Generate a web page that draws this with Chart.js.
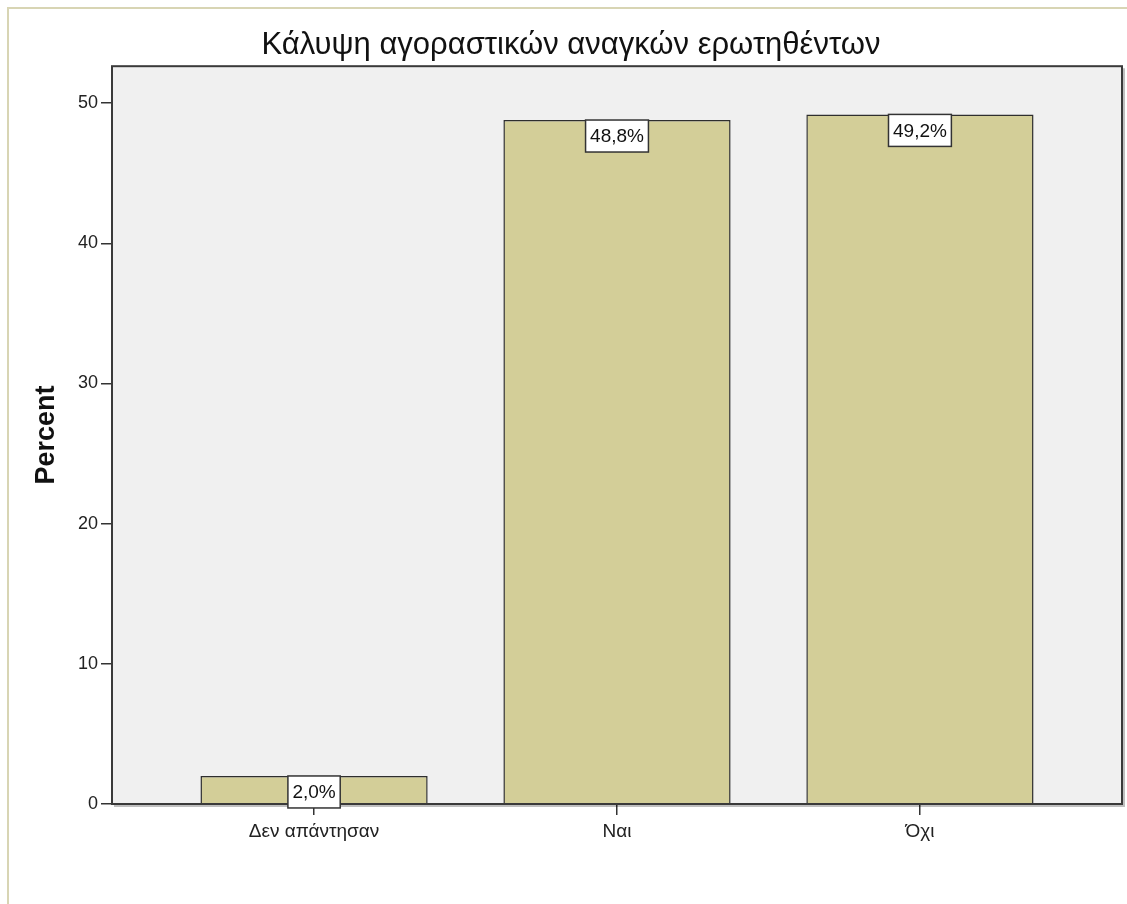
<!DOCTYPE html>
<html>
<head>
<meta charset="utf-8">
<script src="https://cdn.jsdelivr.net/npm/chart.js@4"></script>
<style>
  body { margin: 0; background: #fff; }
  #wrap { position: relative; width: 1127px; height: 904px; }
  #frame {
    position: absolute; left: 7px; top: 7px; right: 0; bottom: 0;
    border-top: 2px solid #d8d5b4; border-left: 2px solid #d8d5b4;
  }
  #chart { position: absolute; left: 0; top: 0; }
</style>
</head>
<body>
<div id="wrap">
  <div id="frame"></div>
  <canvas id="chart" width="1127" height="904"></canvas>
</div>
<script>
const categories = ["Δεν απάντησαν", "Ναι", "Όχι"];
const percents = [2.0, 48.8, 49.2];
const yTicks = [0, 10, 20, 30, 40, 50];

const FONT = "'Liberation Sans', Arial, sans-serif";
const fmt = (v) => v.toFixed(1).replace(".", ",") + "%";

// grey plot background, dark frame and the boxed value labels
const plotDecor = {
  id: "plotDecor",
  beforeDatasetsDraw(chart) {
    const { ctx, chartArea: a } = chart;
    ctx.save();
    ctx.fillStyle = "#f0f0f0";
    ctx.fillRect(a.left, a.top, a.right - a.left, a.bottom - a.top);
    ctx.restore();
  },
  afterDatasetsDraw(chart) {
    const { ctx, chartArea: a } = chart;
    ctx.save();
    // soft shadow on the right and bottom edges
    ctx.strokeStyle = "rgba(0,0,0,0.25)";
    ctx.lineWidth = 2;
    ctx.beginPath();
    ctx.moveTo(a.right + 2, a.top + 2);
    ctx.lineTo(a.right + 2, a.bottom + 2);
    ctx.lineTo(a.left + 2, a.bottom + 2);
    ctx.stroke();
    ctx.strokeStyle = "#3a3a3a";
    ctx.lineWidth = 2;
    ctx.strokeRect(a.left, a.top, a.right - a.left, a.bottom - a.top);

    const meta = chart.getDatasetMeta(0);
    ctx.font = "19px " + FONT;
    ctx.textAlign = "center";
    ctx.textBaseline = "middle";
    meta.data.forEach((bar, i) => {
      const txt = fmt(percents[i]);
      const w = ctx.measureText(txt).width + 9;
      const h = 32;
      const x = bar.x - w / 2;
      const y = bar.y;
      ctx.fillStyle = "#ffffff";
      ctx.fillRect(x, y, w, h);
      ctx.strokeStyle = "#333";
      ctx.lineWidth = 1.5;
      ctx.strokeRect(x, y, w, h);
      ctx.fillStyle = "#111";
      ctx.fillText(txt, bar.x, y + h / 2 + 1);
    });
    ctx.restore();
  },
};

new Chart(document.getElementById("chart"), {
  type: "bar",
  data: {
    datasets: [
      {
        data: percents.map((v, i) => ({ x: i, y: v })),
        backgroundColor: "#d3ce98",
        borderColor: "#2e2e2e",
        borderWidth: 1.5,
        categoryPercentage: 0.75,
        barPercentage: 1,
      },
    ],
  },
  options: {
    responsive: false,
    animation: false,
    layout: { padding: { left: 20, right: 5, top: 0, bottom: 0 } },
    plugins: {
      legend: { display: false },
      tooltip: { enabled: false },
      title: {
        display: true,
        text: "Κάλυψη αγοραστικών αναγκών ερωτηθέντων",
        color: "#111",
        font: { family: FONT, size: 31, weight: "normal" },
        padding: { top: 27, bottom: 2 },
      },
    },
    scales: {
      x: {
        type: "linear",
        offset: false,
        min: -0.667,
        max: 2.667,
        afterBuildTicks: (scale) => {
          scale.ticks = categories.map((_, i) => ({ value: i }));
        },
        afterFit: (scale) => {
          scale.height = 100;
        },
        ticks: {
          autoSkip: false,
          maxRotation: 0,
          padding: 5,
          color: "#222",
          font: { family: FONT, size: 19 },
          callback: (v) => categories[v],
        },
        grid: {
          offset: false,
          drawOnChartArea: false,
          tickLength: 11,
          tickColor: "#333",
          lineWidth: 1.5,
        },
        border: { display: false },
      },
      y: {
        min: 0,
        max: 52.64,
        afterBuildTicks: (scale) => {
          scale.ticks = yTicks.map((v) => ({ value: v }));
        },
        afterFit: (scale) => {
          scale.width = 92;
        },
        ticks: {
          padding: 3,
          color: "#222",
          font: { family: FONT, size: 18 },
        },
        title: {
          display: true,
          text: "Percent",
          color: "#111",
          font: { family: FONT, size: 27, weight: "bold" },
          padding: { top: 10, bottom: 0 },
        },
        grid: { drawOnChartArea: false, tickLength: 11, tickColor: "#333", lineWidth: 1.5 },
        border: { display: false },
      },
    },
  },
  plugins: [plotDecor],
});
</script>
</body>
</html>
